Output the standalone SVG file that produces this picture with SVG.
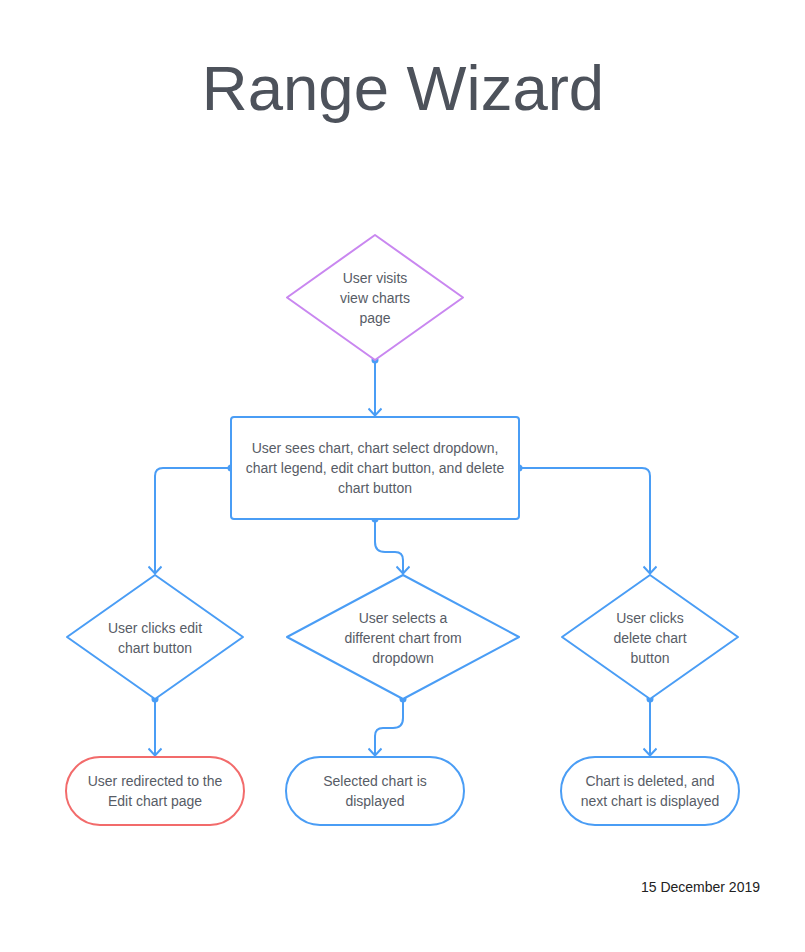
<svg xmlns="http://www.w3.org/2000/svg" width="805" height="952" viewBox="0 0 805 952">
<defs>
<style>
.t{font-family:"Liberation Sans",Arial,sans-serif;font-size:14px;fill:#575c66;text-anchor:middle}
.blue{fill:#fff;stroke:#4a9df5;stroke-width:2}
.c{fill:none;stroke:#4a9df5;stroke-width:2}
.dot{fill:#4a9df5}
</style>
<marker id="ah" viewBox="0 0 10 14" refX="9" refY="7" markerWidth="10" markerHeight="14" markerUnits="userSpaceOnUse" orient="auto">
<path d="M1.5,0.5 L8.5,7 L1.5,13.5" fill="none" stroke="#4a9df5" stroke-width="2"/>
</marker>
</defs>
<rect width="805" height="952" fill="#fff"/>
<text x="403" y="110" font-family="'Liberation Sans',Arial,sans-serif" font-size="63.5" fill="#4d525b" text-anchor="middle">Range Wizard</text>
<g id="connectors">
<path class="c" d="M375,360 V416" marker-end="url(#ah)"/>
<path class="c" d="M231,468 H163 Q155,468 155,476 V574" marker-end="url(#ah)"/>
<path class="c" d="M519,468 H642 Q650,468 650,476 V574" marker-end="url(#ah)"/>
<path class="c" d="M375,519 V542 Q375,552 385,552 H395 Q403,552 403,560 V574" marker-end="url(#ah)"/>
<path class="c" d="M155,699 V756" marker-end="url(#ah)"/>
<path class="c" d="M403,699 V718 Q403,728 393,728 H383 Q375,728 375,736 V756" marker-end="url(#ah)"/>
<path class="c" d="M650,699 V756" marker-end="url(#ah)"/>
<circle class="dot" cx="375" cy="360" r="3.5"/>
<circle class="dot" cx="231" cy="468" r="3.5"/>
<circle class="dot" cx="519" cy="468" r="3.5"/>
<circle class="dot" cx="375" cy="519" r="3.5"/>
<circle class="dot" cx="155" cy="699" r="3.5"/>
<circle class="dot" cx="403" cy="699" r="3.5"/>
<circle class="dot" cx="650" cy="699" r="3.5"/>
</g>
<g id="start">
<path d="M375,235 L463,297.5 L375,360 L287,297.5 Z" fill="#fff" stroke="#c987f0" stroke-width="2" stroke-linejoin="round"/>
<text class="t" x="375" y="283">User visits</text>
<text class="t" x="375" y="303">view charts</text>
<text class="t" x="375" y="323">page</text>
</g>
<g id="sees">
<rect class="blue" x="231" y="417" width="288" height="102" rx="3"/>
<text class="t" x="375" y="453">User sees chart, chart select dropdown,</text>
<text class="t" x="375" y="473">chart legend, edit chart button, and delete</text>
<text class="t" x="375" y="493">chart button</text>
</g>
<g id="edit">
<path class="blue" d="M155,575 L243,637 L155,699 L67,637 Z" stroke-linejoin="round"/>
<text class="t" x="155" y="633">User clicks edit</text>
<text class="t" x="155" y="653">chart button</text>
</g>
<g id="select">
<path class="blue" d="M403,575 L519,637 L403,699 L287,637 Z" stroke-linejoin="round"/>
<text class="t" x="403" y="623">User selects a</text>
<text class="t" x="403" y="643">different chart from</text>
<text class="t" x="403" y="663">dropdown</text>
</g>
<g id="delete">
<path class="blue" d="M650,575 L738,637 L650,699 L562,637 Z" stroke-linejoin="round"/>
<text class="t" x="650" y="623">User clicks</text>
<text class="t" x="650" y="643">delete chart</text>
<text class="t" x="650" y="663">button</text>
</g>
<g id="redirect">
<rect x="66" y="757" width="178" height="68" rx="34" fill="#fff" stroke="#f26b6b" stroke-width="2"/>
<text class="t" x="155" y="786">User redirected to the</text>
<text class="t" x="155" y="806">Edit chart page</text>
</g>
<g id="displayed">
<rect class="blue" x="286" y="757" width="178" height="68" rx="34"/>
<text class="t" x="375" y="786">Selected chart is</text>
<text class="t" x="375" y="806">displayed</text>
</g>
<g id="deleted">
<rect class="blue" x="561" y="757" width="178" height="68" rx="34"/>
<text class="t" x="650" y="786">Chart is deleted, and</text>
<text class="t" x="650" y="806">next chart is displayed</text>
</g>
<text x="760" y="892" font-family="'Liberation Sans',Arial,sans-serif" font-size="14" fill="#222" text-anchor="end">15 December 2019</text>
</svg>
